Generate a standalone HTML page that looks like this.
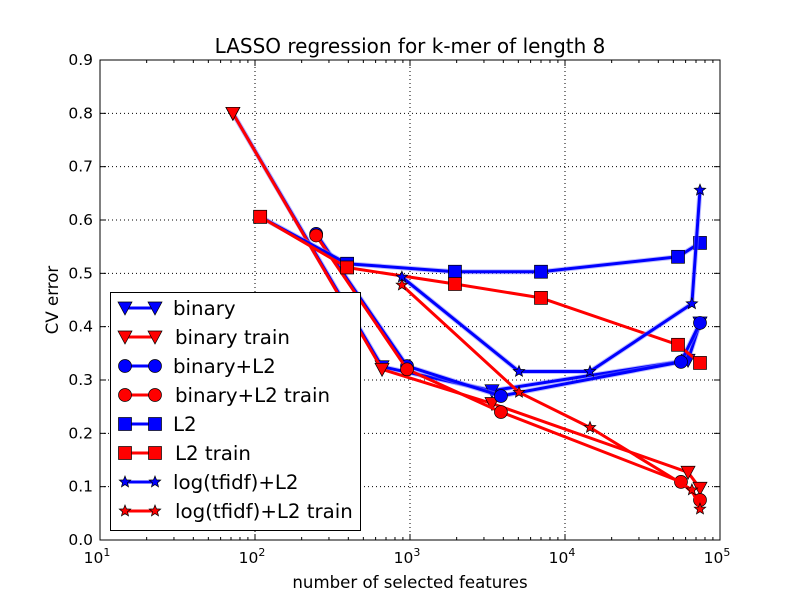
<!DOCTYPE html>
<html><head><meta charset="utf-8"><style>
body{margin:0;background:#fff;}
svg{display:block;font-family:"DejaVu Sans","Liberation Sans",sans-serif;}
</style></head><body>
<svg id="chart" width="800" height="600" viewBox="0 0 800 600">
<rect width="800" height="600" fill="#fff"/>
<g id="grid"></g>
<g id="series"></g>
<rect x="100" y="60" width="620" height="480" fill="none" stroke="#000" stroke-width="1"/>
<g id="ticks"></g>
<text x="410" y="53" text-anchor="middle" font-size="20">LASSO regression for k-mer of length 8</text>
<text x="410" y="588" text-anchor="middle" font-size="16.6">number of selected features</text>
<text transform="translate(58,300) rotate(-90)" text-anchor="middle" font-size="16.6">CV error</text>
<g id="legend"></g>
</svg>
<script>
const yTicks=[0,0.1,0.2,0.3,0.4,0.5,0.6,0.7,0.8,0.9];
const xTickExp=[1,2,3,4,5];
const seriesNames=["binary","binary train","binary+L2","binary+L2 train","L2","L2 train","log(tfidf)+L2","log(tfidf)+L2 train"];
const binaryX=[72,660,3380,62200,74300];
const binaryY=[0.8,0.325,0.28,0.337,0.407];
const binaryTrainX=[72,660,3380,62200,74300];
const binaryTrainY=[0.8,0.32,0.256,0.127,0.097];
const binL2X=[248,957,3860,56000,74300];
const binL2Y=[0.574,0.326,0.27,0.334,0.407];
const binL2TrainX=[248,957,3860,56000,74300];
const binL2TrainY=[0.571,0.32,0.24,0.109,0.075];
const l2X=[108,393,1950,7000,53600,74300];
const l2Y=[0.606,0.518,0.503,0.503,0.531,0.557];
const l2TrainX=[108,393,1950,7000,53600,74300];
const l2TrainY=[0.606,0.511,0.48,0.454,0.366,0.332];
const tfX=[887,5050,14500,65900,74300];
const tfY=[0.493,0.316,0.316,0.443,0.656];
const tfTrainX=[887,5050,14500,65900,74300];
const tfTrainY=[0.478,0.277,0.211,0.094,0.058];

const NS="http://www.w3.org/2000/svg";
const X0=100,X1=720,Y0=540,Y1=60;
function xs(v){return X0+(Math.log10(v)-1)/4*(X1-X0);}
function ys(v){return Y0-v/0.9*(Y0-Y1);}
function mk(tag,attrs,parent){const e=document.createElementNS(NS,tag);for(const k in attrs)e.setAttribute(k,attrs[k]);parent.appendChild(e);return e;}
const grid=document.getElementById('grid'),ticks=document.getElementById('ticks'),ser=document.getElementById('series'),leg=document.getElementById('legend');
yTicks.forEach(t=>{const y=ys(t);
 if(t>0&&t<0.9){const g=mk('line',{x1:X0,x2:X1,y1:y,y2:y,stroke:'#000','stroke-dasharray':'1,3','stroke-width':1},grid);
 
 }
 mk('line',{x1:X0,x2:X0+6,y1:y,y2:y,stroke:'#000'},ticks);mk('line',{x1:X1,x2:X1-6,y1:y,y2:y,stroke:'#000'},ticks);
 const tx=mk('text',{x:X0-7,y:y+5,'text-anchor':'end','font-size':15.5},ticks);tx.textContent=t.toFixed(1);
 
 
});
xTickExp.forEach(e=>{const x=xs(Math.pow(10,e));
 if(e>1&&e<5){const g=mk('line',{x1:x,x2:x,y1:Y0,y2:Y1,stroke:'#000','stroke-dasharray':'1,3'},grid);
 
 }
 mk('line',{x1:x,x2:x,y1:Y0,y2:Y0-6,stroke:'#000'},ticks);mk('line',{x1:x,x2:x,y1:Y1,y2:Y1+6,stroke:'#000'},ticks);
 for(let m=2;m<10&&e<5;m++){const xm=xs(m*Math.pow(10,e));mk('line',{x1:xm,x2:xm,y1:Y0,y2:Y0-3,stroke:'#000'},ticks);mk('line',{x1:xm,x2:xm,y1:Y1,y2:Y1+3,stroke:'#000'},ticks);}
 const tx=mk('text',{x:x-3,y:Y0+23,'text-anchor':'middle','font-size':15.5},ticks);tx.textContent='10';
 
 
 const sp=mk('tspan',{'font-size':11,dy:-7},tx);sp.textContent=e;
});
function marker(type,x,y,color,parent){let m;
 if(type==='v')m=mk('polygon',{points:`${x-7},${y-6} ${x+7},${y-6} ${x},${y+7}`},parent);
 else if(type==='o')m=mk('circle',{cx:x,cy:y,r:6.5},parent);
 else if(type==='s')m=mk('rect',{x:x-6.5,y:y-6.5,width:13,height:13},parent);
 else{let p=[];for(let i=0;i<10;i++){const r=i%2?2.6:6,a=-Math.PI/2+i*Math.PI/5;p.push((x+r*Math.cos(a)).toFixed(1)+','+(y+r*Math.sin(a)).toFixed(1));}m=mk('polygon',{points:p.join(' ')},parent);}
 m.setAttribute('fill',color);m.setAttribute('stroke','#000');m.setAttribute('stroke-width',0.7);return m;}
const defs=[[binaryX,binaryY,'v','#0000ff'],[binaryTrainX,binaryTrainY,'v','#ff0000'],[binL2X,binL2Y,'o','#0000ff'],[binL2TrainX,binL2TrainY,'o','#ff0000'],[l2X,l2Y,'s','#0000ff'],[l2TrainX,l2TrainY,'s','#ff0000'],[tfX,tfY,'*','#0000ff'],[tfTrainX,tfTrainY,'*','#ff0000']];
defs.forEach((d,i)=>{const g=mk('g',{},ser);
 
 
 const pts=d[0].map((v,j)=>xs(v).toFixed(1)+','+ys(d[1][j]).toFixed(1)).join(' ');
 if(d[3]==='#0000ff')mk('polyline',{points:pts,fill:'none',stroke:'#8080ff','stroke-width':5,'stroke-opacity':0.5},g);
 mk('polyline',{points:pts,fill:'none',stroke:d[3],'stroke-width':3,'stroke-linejoin':'round'},g);
 d[0].forEach((v,j)=>{const m=marker(d[2],xs(v),ys(d[1][j]),d[3],g);
  
  });
});
mk('rect',{x:110.5,y:292.5,width:250,height:238,fill:'#fff',stroke:'#000','stroke-width':1},leg);
defs.forEach((d,i)=>{const y=308+i*29;const g=mk('g',{},leg);
 
 
 mk('line',{x1:125,x2:155,y1:y,y2:y,stroke:d[3],'stroke-width':3},g);
 marker(d[2],125,y,d[3],g);marker(d[2],155,y,d[3],g);
 const t=mk('text',{x:i%2?175:173,y:y+7,'font-size':19.8},g);t.textContent=seriesNames[i];
});
</script>
</body></html>
